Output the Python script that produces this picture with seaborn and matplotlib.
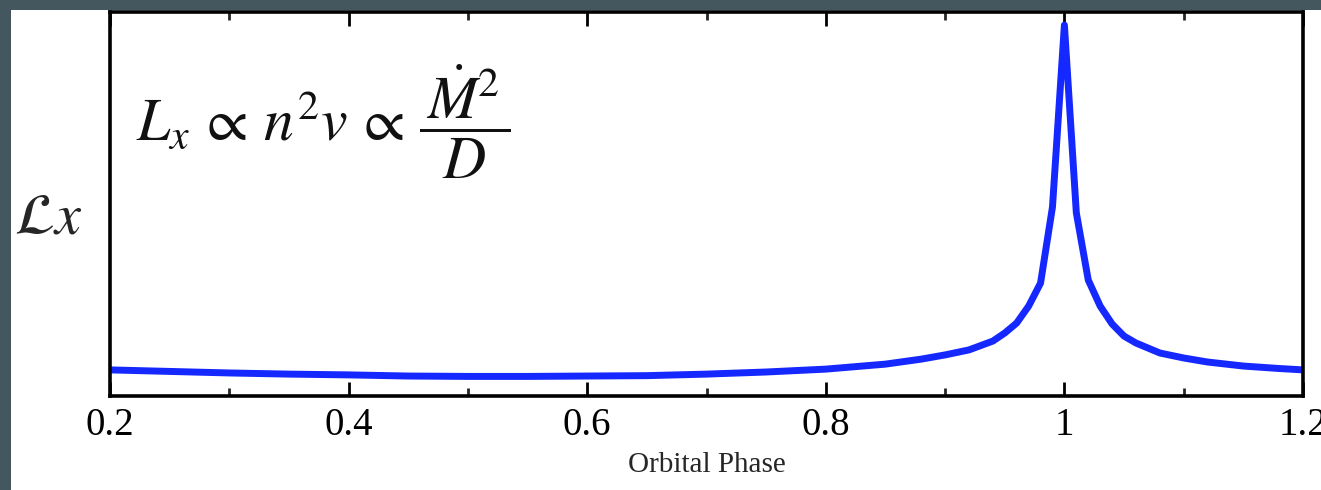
import matplotlib
matplotlib.use("Agg")
import matplotlib.pyplot as plt
from matplotlib.patches import Rectangle
from matplotlib.ticker import MultipleLocator
import numpy as np
import pandas as pd
import seaborn as sns

# Data (arbitrary luminosity units)
phase = [0.20, 0.25, 0.30, 0.35, 0.40, 0.45, 0.50, 0.55, 0.60, 0.65, 0.70, 0.75,
         0.80, 0.85, 0.88, 0.90, 0.92, 0.94, 0.95, 0.96, 0.97, 0.98, 0.99, 1.00,
         1.01, 1.02, 1.03, 1.04, 1.05, 1.06, 1.08, 1.10, 1.12, 1.15, 1.18, 1.20]
lum = [0.068, 0.064, 0.060, 0.057, 0.055, 0.052, 0.051, 0.051, 0.052, 0.053, 0.057, 0.0625,
       0.070, 0.083, 0.096, 0.107, 0.120, 0.143, 0.164, 0.190, 0.234, 0.294, 0.492, 0.966,
       0.477, 0.302, 0.234, 0.1875, 0.156, 0.138, 0.112, 0.099, 0.0885, 0.078, 0.0716, 0.068]
xticks = [0.2, 0.4, 0.6, 0.8, 1.0, 1.2]
xtick_labels = ["0.2", "0.4", "0.6", "0.8", "1", "1.2"]

df = pd.DataFrame({"Orbital Phase": phase, "Lx": lum})

sns.set_style("ticks")
plt.rcParams["font.family"] = ["Liberation Serif", "DejaVu Serif"]
plt.rcParams["mathtext.fontset"] = "stix"

fig = plt.figure(figsize=(13.21, 4.90), dpi=100, facecolor="#45575e")
fig.patches.append(Rectangle((11 / 1321, 0), 1 - 11 / 1321, 480 / 490,
                             transform=fig.transFigure, facecolor="white",
                             edgecolor="none", zorder=-10))
ax = fig.add_axes([110 / 1321, 94 / 490, (1303 - 110) / 1321, (396 - 12) / 490])
ax.set_zorder(5)
ax.set_facecolor("white")

sns.lineplot(data=df, x="Orbital Phase", y="Lx", ax=ax, color="#1428ff",
             linewidth=5, sort=False)

ax.set_xlim(0.2, 1.2)
ax.set_ylim(0, 1)
ax.set_xticks(xticks)
ax.set_xticklabels(xtick_labels)
ax.xaxis.set_minor_locator(MultipleLocator(0.1))
ax.set_yticks([])

for s in ax.spines.values():
    s.set_visible(True)
    s.set_linewidth(2.6)
    s.set_color("black")

ax.tick_params(axis="x", which="major", direction="in", length=10, width=2,
               top=True, bottom=True, labelsize=28, pad=8, colors="black")
ax.tick_params(axis="x", which="minor", direction="in", length=6, width=2,
               top=True, bottom=True)

ax.set_xlabel("Orbital Phase", fontsize=21, labelpad=6)
ax.set_ylabel(r"$\mathcal{L}x$", fontsize=42, rotation=0, va="center")
ax.yaxis.set_label_coords(-0.052, 0.46)

ax.text(0.022, 0.715,
        r"$L_x \,\propto\, n^2 v \,\propto\, \dfrac{\,\dot{M}^2\,}{D}$",
        transform=ax.transAxes, fontsize=43, va="center", ha="left", color="#111111")

fig.savefig("out.png", dpi=100, facecolor=fig.get_facecolor())
